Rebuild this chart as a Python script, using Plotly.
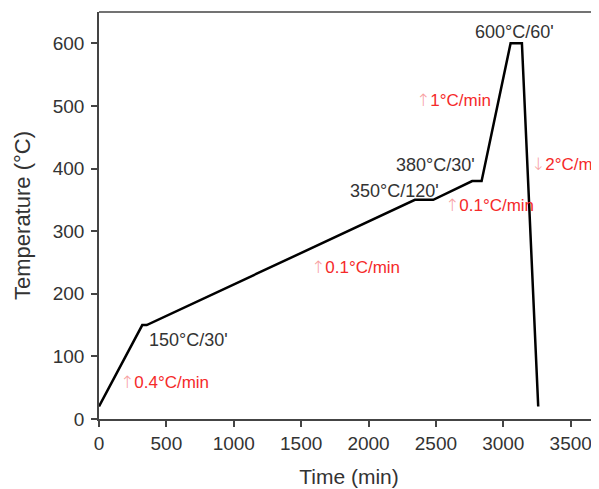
import plotly.graph_objects as go

# Heating profile (time in min, temperature in °C)
time_min = [0, 321, 354, 2344, 2480, 2769, 2839, 3054, 3138, 3259]
temp_c = [20, 150, 150, 350, 350, 380, 380, 600, 600, 20]

x_ticks = [0, 500, 1000, 1500, 2000, 2500, 3000, 3500]
y_ticks = [0, 100, 200, 300, 400, 500, 600]

# Annotation texts
step_labels = ["600°C/60'", "380°C/30'", "350°C/120'", "150°C/30'"]
rate_labels = ["1°C/min", "0.1°C/min", "2°C/min", "0.1°C/min", "0.4°C/min"]
rate_arrows = ["↑", "↑", "↓", "↑", "↑"]

fig = go.Figure()
fig.add_trace(go.Scatter(x=time_min, y=temp_c, mode="lines",
                         line=dict(color="black", width=2.5), showlegend=False))

font_family = "Liberation Sans, Arial, sans-serif"
dark = "#333333"
red = "#f52a2a"
pink = "#f7a0a0"

# (x, y, xanchor)
step_pos = [(3086, 618, "center"), (2188, 405.6, "left"), (1845, 364.6, "left"), (354, 125.4, "left")]
rate_pos = [(2340, 509, "left"), (2550, 341.8, "left"), (3190, 407.6, "left"), (1555, 242.4, "left"), (140, 58.4, "left")]

annotations = []
for txt, (x, y, xa) in zip(step_labels, step_pos):
    annotations.append(dict(x=x, y=y, xref="x", yref="y", text=txt, showarrow=False,
                            xanchor=xa, yanchor="middle",
                            font=dict(family=font_family, size=18, color=dark)))
for arr, txt, (x, y, xa) in zip(rate_arrows, rate_labels, rate_pos):
    annotations.append(dict(x=x, y=y, xref="x", yref="y",
                            text=f'<span style="color:{pink};font-family:DejaVu Sans;font-weight:300">{arr}</span>{txt}',
                            showarrow=False, xanchor=xa, yanchor="middle",
                            font=dict(family=font_family, size=17, color=red)))

fig.update_layout(
    width=591, height=481,
    margin=dict(l=91, r=0, t=4, b=70),
    paper_bgcolor="white", plot_bgcolor="white",
    font=dict(family=font_family, color=dark),
    annotations=annotations,
    shapes=[dict(type="line", xref="paper", yref="paper", x0=0, x1=1, y0=1, y1=1,
                 line=dict(color="#444444", width=1.5))],
    xaxis=dict(range=[0, 3710], tickvals=x_ticks, showgrid=False, zeroline=False,
               showline=True, linecolor="#444444", linewidth=1.5,
               ticks="outside", ticklen=6, tickcolor="#444444", tickwidth=1.5,
               tickfont=dict(size=19, color=dark),
               title=dict(text="Time (min)", font=dict(size=21, color=dark), standoff=17)),
    yaxis=dict(range=[0, 650], tickvals=y_ticks, showgrid=False, zeroline=False,
               showline=True, linecolor="#444444", linewidth=1.5,
               ticks="outside", ticklen=6, tickcolor="#444444", tickwidth=1.5,
               ticklabelstandoff=3,
               tickfont=dict(size=19, color=dark),
               title=dict(text="Temperature (°C)", font=dict(size=22, color=dark), standoff=16)),
)

fig.write_html("out.html")
